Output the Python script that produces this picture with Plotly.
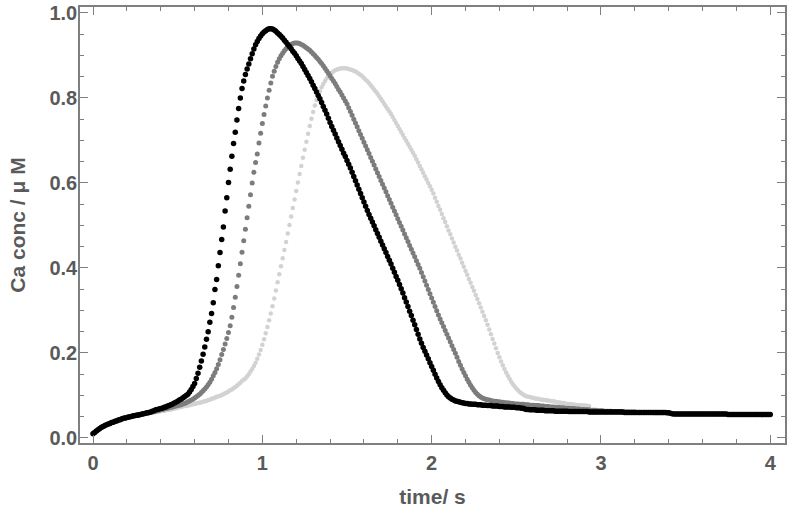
import numpy as np
import plotly.graph_objects as go

# sampling interval of the recorded traces (s)
SAMPLE_DT = 0.01

# Ca concentration (uM), black trace, t = 0.00 .. 4.00 s
black_ca = [
    0.010,0.013,0.016,0.019,0.022,0.025,0.027,0.029,0.031,0.033,
    0.034,0.036,0.037,0.039,0.040,0.042,0.043,0.045,0.046,0.047,
    0.048,0.049,0.050,0.051,0.052,0.053,0.054,0.054,0.055,0.056,
    0.057,0.058,0.059,0.060,0.061,0.063,0.064,0.066,0.067,0.068,
    0.069,0.070,0.072,0.073,0.075,0.076,0.078,0.080,0.082,0.084,
    0.086,0.089,0.091,0.094,0.097,0.100,0.103,0.108,0.114,0.121,
    0.128,0.140,0.152,0.166,0.181,0.197,0.214,0.232,0.250,0.272,
    0.293,0.318,0.349,0.373,0.405,0.436,0.467,0.496,0.534,0.565,
    0.601,0.632,0.663,0.693,0.719,0.748,0.775,0.800,0.822,0.840,
    0.855,0.868,0.880,0.892,0.904,0.915,0.925,0.933,0.940,0.946,
    0.951,0.955,0.958,0.961,0.963,0.963,0.962,0.960,0.957,0.953,
    0.949,0.945,0.941,0.936,0.931,0.926,0.921,0.916,0.910,0.905,
    0.899,0.893,0.887,0.881,0.874,0.867,0.860,0.853,0.846,0.838,
    0.830,0.822,0.814,0.806,0.798,0.789,0.780,0.771,0.762,0.752,
    0.742,0.733,0.724,0.715,0.706,0.697,0.688,0.679,0.670,0.662,
    0.653,0.644,0.635,0.625,0.615,0.605,0.595,0.585,0.575,0.565,
    0.555,0.545,0.535,0.526,0.517,0.508,0.499,0.490,0.481,0.472,
    0.463,0.454,0.445,0.436,0.427,0.418,0.409,0.399,0.390,0.380,
    0.371,0.361,0.351,0.341,0.330,0.320,0.309,0.298,0.288,0.277,
    0.266,0.255,0.244,0.233,0.223,0.213,0.204,0.195,0.186,0.177,
    0.168,0.159,0.150,0.141,0.133,0.125,0.118,0.112,0.106,0.101,
    0.097,0.094,0.091,0.089,0.087,0.086,0.085,0.084,0.083,0.082,
    0.081,0.081,0.080,0.080,0.079,0.079,0.079,0.078,0.078,0.078,
    0.077,0.077,0.077,0.076,0.076,0.076,0.075,0.075,0.075,0.075,
    0.074,0.074,0.074,0.073,0.073,0.073,0.073,0.072,0.072,0.072,
    0.071,0.071,0.071,0.070,0.070,0.068,0.067,0.067,0.066,0.066,
    0.066,0.066,0.065,0.065,0.065,0.065,0.065,0.064,0.064,0.064,
    0.064,0.064,0.064,0.063,0.063,0.063,0.063,0.063,0.063,0.063,
    0.063,0.062,0.062,0.062,0.062,0.062,0.062,0.062,0.062,0.062,
    0.062,0.062,0.062,0.061,0.061,0.061,0.061,0.061,0.061,0.061,
    0.061,0.061,0.061,0.061,0.061,0.061,0.061,0.061,0.061,0.061,
    0.061,0.061,0.061,0.061,0.060,0.060,0.060,0.060,0.060,0.060,
    0.060,0.060,0.060,0.060,0.060,0.060,0.060,0.060,0.060,0.060,
    0.060,0.060,0.060,0.060,0.060,0.060,0.060,0.060,0.060,0.059,
    0.059,0.058,0.057,0.056,0.056,0.056,0.056,0.056,0.056,0.056,
    0.056,0.056,0.056,0.056,0.056,0.056,0.056,0.056,0.056,0.056,
    0.056,0.056,0.056,0.056,0.056,0.056,0.056,0.056,0.056,0.056,
    0.056,0.056,0.056,0.056,0.056,0.055,0.055,0.055,0.055,0.055,
    0.055,0.055,0.055,0.055,0.055,0.055,0.055,0.055,0.055,0.055,
    0.055,0.055,0.055,0.055,0.055,0.055,0.055,0.055,0.055,0.055,
    0.055,
]

# dark-gray trace, t = 0.00 .. 3.40 s
gray_ca = [
    0.011,0.014,0.017,0.020,0.023,0.025,0.027,0.029,0.031,0.033,
    0.035,0.036,0.038,0.039,0.041,0.042,0.043,0.044,0.046,0.047,
    0.048,0.049,0.050,0.051,0.052,0.053,0.053,0.054,0.055,0.056,
    0.057,0.058,0.058,0.059,0.060,0.061,0.062,0.063,0.064,0.065,
    0.066,0.067,0.068,0.069,0.070,0.071,0.072,0.073,0.074,0.075,
    0.076,0.077,0.078,0.080,0.081,0.083,0.085,0.087,0.089,0.091,
    0.094,0.097,0.100,0.103,0.107,0.111,0.115,0.120,0.125,0.131,
    0.138,0.146,0.154,0.163,0.173,0.184,0.196,0.208,0.221,0.234,
    0.248,0.264,0.284,0.307,0.331,0.356,0.383,0.410,0.437,0.464,
    0.491,0.518,0.545,0.572,0.600,0.625,0.648,0.668,0.694,0.717,
    0.740,0.761,0.781,0.800,0.818,0.835,0.851,0.863,0.874,0.884,
    0.892,0.899,0.905,0.911,0.916,0.920,0.923,0.926,0.928,0.929,
    0.929,0.929,0.928,0.926,0.924,0.921,0.918,0.915,0.912,0.908,
    0.904,0.900,0.895,0.891,0.886,0.881,0.876,0.870,0.864,0.858,
    0.852,0.846,0.840,0.834,0.827,0.820,0.814,0.807,0.800,0.793,
    0.786,0.777,0.768,0.759,0.750,0.741,0.732,0.723,0.714,0.705,
    0.696,0.687,0.678,0.669,0.660,0.651,0.642,0.633,0.624,0.615,
    0.606,0.597,0.588,0.579,0.570,0.561,0.552,0.543,0.534,0.525,
    0.516,0.507,0.498,0.489,0.480,0.471,0.462,0.453,0.444,0.435,
    0.426,0.417,0.408,0.399,0.389,0.379,0.369,0.359,0.349,0.339,
    0.329,0.319,0.309,0.299,0.289,0.280,0.271,0.262,0.253,0.244,
    0.235,0.226,0.217,0.208,0.199,0.190,0.180,0.171,0.162,0.154,
    0.146,0.138,0.131,0.124,0.118,0.112,0.107,0.103,0.099,0.096,
    0.094,0.092,0.091,0.090,0.089,0.088,0.087,0.086,0.086,0.085,
    0.085,0.084,0.084,0.083,0.083,0.082,0.082,0.081,0.081,0.080,
    0.080,0.080,0.079,0.079,0.079,0.078,0.078,0.078,0.077,0.077,
    0.077,0.076,0.076,0.076,0.075,0.075,0.075,0.074,0.074,0.074,
    0.073,0.073,0.073,0.072,0.072,0.072,0.071,0.071,0.071,0.070,
    0.070,0.070,0.069,0.069,0.069,0.068,0.068,0.068,0.067,0.067,
    0.067,0.066,0.066,0.066,0.065,0.065,0.065,0.065,0.064,0.064,
    0.064,0.064,0.063,0.063,0.063,0.063,0.063,0.062,0.062,0.062,
    0.062,0.062,0.062,0.061,0.061,0.061,0.061,0.061,0.061,0.061,
    0.061,0.060,0.060,0.060,0.060,0.060,0.060,0.060,0.060,0.060,
    0.060,0.059,0.059,0.059,0.059,0.059,0.059,0.059,0.059,0.059,
    0.059,
]

# light-gray trace, t = 0.00 .. 2.93 s
light_ca = [
    0.010,0.013,0.016,0.019,0.022,0.024,0.026,0.028,0.030,0.032,
    0.034,0.035,0.037,0.038,0.040,0.041,0.042,0.043,0.045,0.046,
    0.047,0.048,0.049,0.050,0.050,0.051,0.052,0.053,0.054,0.055,
    0.056,0.057,0.058,0.058,0.059,0.060,0.060,0.061,0.062,0.062,
    0.063,0.064,0.064,0.065,0.066,0.067,0.067,0.068,0.069,0.070,
    0.071,0.072,0.073,0.074,0.075,0.075,0.076,0.077,0.078,0.079,
    0.080,0.081,0.082,0.083,0.084,0.085,0.086,0.087,0.089,0.090,
    0.092,0.093,0.095,0.096,0.098,0.099,0.101,0.103,0.105,0.107,
    0.109,0.112,0.114,0.117,0.120,0.123,0.126,0.130,0.134,0.137,
    0.140,0.145,0.150,0.156,0.162,0.169,0.177,0.186,0.196,0.207,
    0.219,0.232,0.246,0.261,0.277,0.293,0.310,0.328,0.347,0.366,
    0.385,0.404,0.423,0.442,0.461,0.481,0.501,0.521,0.541,0.561,
    0.581,0.601,0.621,0.640,0.659,0.678,0.697,0.716,0.734,0.751,
    0.767,0.782,0.795,0.806,0.816,0.825,0.833,0.840,0.846,0.851,
    0.855,0.859,0.862,0.865,0.867,0.868,0.869,0.870,0.870,0.870,
    0.869,0.868,0.867,0.866,0.864,0.862,0.860,0.857,0.854,0.851,
    0.847,0.843,0.839,0.835,0.830,0.825,0.820,0.815,0.810,0.804,
    0.798,0.792,0.786,0.780,0.774,0.768,0.762,0.755,0.748,0.741,
    0.734,0.727,0.720,0.713,0.706,0.699,0.692,0.685,0.678,0.671,
    0.664,0.656,0.648,0.640,0.632,0.624,0.616,0.608,0.600,0.592,
    0.584,0.575,0.565,0.556,0.546,0.537,0.527,0.517,0.508,0.498,
    0.488,0.479,0.469,0.460,0.450,0.441,0.431,0.422,0.412,0.403,
    0.393,0.384,0.374,0.365,0.355,0.346,0.336,0.327,0.317,0.307,
    0.297,0.287,0.277,0.266,0.255,0.244,0.233,0.222,0.211,0.200,
    0.190,0.180,0.171,0.162,0.154,0.146,0.139,0.132,0.126,0.121,
    0.116,0.112,0.108,0.105,0.102,0.100,0.098,0.097,0.096,0.095,
    0.094,0.093,0.092,0.092,0.091,0.090,0.090,0.089,0.088,0.088,
    0.087,0.086,0.086,0.085,0.084,0.084,0.083,0.082,0.082,0.081,
    0.080,0.080,0.079,0.079,0.078,0.078,0.077,0.077,0.077,0.076,
    0.076,0.076,0.075,0.075,
]

x_ticks = [0, 1, 2, 3, 4]
y_ticks = [0.0, 0.2, 0.4, 0.6, 0.8, 1.0]


def times(values):
    return np.round(np.arange(len(values)) * SAMPLE_DT, 2)


LABEL_COLOR = "#5a5a5a"
FRAME_COLOR = "#7f7f7f"
FONT = "Liberation Sans, Arial, sans-serif"

fig = go.Figure()
series = [
    (light_ca, "#d2d2d2", 4.5),
    (gray_ca, "#7c7c7c", 5),
    (black_ca, "#000000", 5.5),
]
for ys, color, size in series:
    fig.add_trace(go.Scatter(
        x=times(ys), y=ys, mode="markers",
        marker=dict(color=color, size=size, line=dict(width=0)),
        showlegend=False, hoverinfo="x+y",
    ))

axis_common = dict(
    showline=True, linecolor=FRAME_COLOR, linewidth=1.5, mirror="ticks",
    ticks="inside", ticklen=8, tickwidth=1.3, tickcolor=FRAME_COLOR,
    showgrid=False, zeroline=False, automargin=False,
    tickfont=dict(family=FONT, size=20, color=LABEL_COLOR, weight="bold"),
)

fig.update_layout(
    width=789, height=522,
    margin=dict(l=80, r=4, t=7, b=79),
    plot_bgcolor="white", paper_bgcolor="white",
    xaxis=dict(
        range=[-0.077, 4.087], tickmode="array", tickvals=x_ticks,
        ticktext=[str(v) for v in x_ticks],
        minor=dict(dtick=0.2, tick0=0, ticks="inside", ticklen=4.5,
                   tickwidth=1.1, tickcolor=FRAME_COLOR, showgrid=False),
        ticklabelstandoff=1,
        title=dict(text="time/ s", standoff=17,
                   font=dict(family=FONT, size=21, color=LABEL_COLOR, weight="bold")),
        **axis_common,
    ),
    yaxis=dict(
        range=[-0.012, 1.014], tickmode="array", tickvals=y_ticks,
        ticktext=[f"{v:.1f}" for v in y_ticks],
        minor=dict(dtick=0.05, tick0=0, ticks="inside", ticklen=4.5,
                   tickwidth=1.1, tickcolor=FRAME_COLOR, showgrid=False),
        ticklabelstandoff=-3,
        title=dict(text="Ca conc / μ M", standoff=18,
                   font=dict(family=FONT, size=21, color=LABEL_COLOR, weight="bold")),
        **axis_common,
    ),
)

# remove the browser's default 8px page margin so the figure sits at (0, 0)
fig.write_html("out.html",
               config={"displayModeBar": False},
               post_script="document.body.style.margin='0';")
